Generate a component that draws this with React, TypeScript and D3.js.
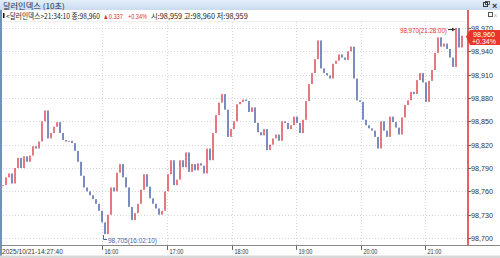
import React, { useLayoutEffect, useRef } from "react";
import * as d3 from "d3";

const closes: number[] = [
  98768, 98778, 98783, 98770, 98790, 98803, 98790, 98805, 98798, 98806,
  98818, 98815, 98824, 98850, 98864, 98828, 98835, 98843, 98849, 98835,
  98826, 98824, 98825, 98822, 98812, 98798, 98780, 98765, 98760, 98755,
  98750, 98744, 98735, 98720, 98705, 98730, 98765, 98760, 98784, 98795,
  98778, 98765, 98740, 98723, 98732, 98744, 98762, 98782, 98766, 98751,
  98744, 98738, 98730, 98735, 98760, 98782, 98800, 98768, 98775, 98800,
  98791, 98810, 98785, 98795, 98787, 98796, 98793, 98783, 98815, 98800,
  98835, 98858, 98874, 98885, 98865, 98830, 98840, 98850, 98872, 98875,
  98878, 98876, 98862, 98868, 98848, 98836, 98832, 98840, 98813, 98820,
  98828, 98833, 98825, 98850, 98848, 98840, 98845, 98856, 98848, 98835,
  98852, 98876, 98898, 98912, 98930, 98954, 98918, 98912, 98909, 98905,
  98924, 98928, 98936, 98932, 98929, 98940, 98946, 98905, 98877, 98875,
  98852, 98845, 98841, 98838, 98830, 98815, 98850, 98838, 98830, 98856,
  98849, 98842, 98833, 98855, 98871, 98877, 98888, 98885, 98903, 98912,
  98900, 98875, 98902, 98916, 98938, 98958, 98946, 98950, 98943, 98932,
  98920, 98970, 98945, 98960,
];

const yTickValues: number[] = [98700, 98730, 98760, 98790, 98820, 98850, 98880, 98910, 98940, 98970];
const hourTicks: number[] = [16, 17, 18, 19, 20, 21];
const startLabel = "2025/10/21-14:27:40";
const titleText = "달러인덱스 (10초)";
const infoMain = "<달러인덱스>21:34:10 종:98,960";
const infoChange = "▲0.337";
const infoPct = "+0.34%";
const infoRest = "시:98,959 고:98,960 저:98,959";
const lastPrice = "98,960";
const lastChange = "+0.34%";
const maxLabel = "98,970(21:28:00)";
const minLabel = "98,705(16:02:10)";

const W = 500;
const H = 258;
const start = new Date(2025, 9, 21, 14, 27, 40);
const end = new Date(2025, 9, 21, 21, 34, 10);
const numFont = "'Liberation Sans', Arial, sans-serif";
const krFont = "'Noto Sans CJK KR', sans-serif";

function FitText(props: {
  x: number;
  y: number;
  w: number;
  size: number;
  fill: string;
  font?: string;
  anchor?: "start" | "end";
  children: string;
}) {
  const ref = useRef<SVGTextElement>(null);
  const { x, y, w, size, fill, font, anchor, children } = props;
  useLayoutEffect(() => {
    const el = ref.current;
    if (!el) return;
    const len = el.getComputedTextLength() || w;
    const k = w / len;
    const x0 = anchor === "end" ? x - w : x;
    el.setAttribute("transform", `translate(${x0},${y}) scale(${k},1)`);
  }, [x, y, w, anchor, children]);
  return (
    <text ref={ref} x={0} y={0} transform={`translate(${x},${y})`} fontFamily={font || numFont} fontSize={size} fill={fill}>
      {children}
    </text>
  );
}

export default function App() {
  const n = closes.length;
  const times = d3.range(n).map((i) => new Date(+start + (i * (+end - +start)) / (n - 1)));
  const x = d3.scaleTime().domain([start, end]).range([3, 462]);
  const y = d3.scaleLinear().domain([98700, 98970]).range([238, 28]);

  const maxV = d3.max(closes) as number;
  const minV = d3.min(closes) as number;
  const maxI = closes.indexOf(maxV);
  const minI = closes.indexOf(minV);

  return (
    <svg width={W} height={H} style={{ position: "absolute", left: 0, top: 0, background: "#fff" }}>
      <defs>
        <linearGradient id="tb" x1="0" y1="0" x2="0" y2="1">
          <stop offset="0" stopColor="#e4eefa" />
          <stop offset="1" stopColor="#c9dbef" />
        </linearGradient>
      </defs>
      {/* title bar */}
      <rect x={0} y={0} width={W} height={10} fill="url(#tb)" />
      <FitText x={3} y={8.5} w={62} size={7.5} fill="#1d2c4c" font={krFont}>
        {titleText}
      </FitText>
      <rect x={483.5} y={2.5} width={4} height={4} fill="none" stroke="#333" />
      <rect x={485.5} y={1.5} width={4} height={3} fill="none" stroke="#333" strokeWidth={0.8} />
      <text x={492} y={8.5} fontFamily={numFont} fontSize={9} fontWeight="bold" fill="#333">
        ×
      </text>
      {/* left border */}
      <rect x={0} y={10} width={2} height={H - 10} fill="#7191bf" />
      {/* info line */}
      <rect x={3} y={13} width={1.5} height={5} fill="#111" />
      <FitText x={6} y={18.5} w={94} size={7.5} fill="#222" font={krFont}>
        {infoMain}
      </FitText>
      <FitText x={103} y={18.5} w={20} size={7.5} fill="#e0302e">
        {infoChange}
      </FitText>
      <FitText x={128} y={18.5} w={19} size={7.5} fill="#e0302e">
        {infoPct}
      </FitText>
      <FitText x={151} y={18.5} w={97} size={7.5} fill="#222" font={krFont}>
        {infoRest}
      </FitText>
      <rect x={488.5} y={12.5} width={4} height={4} fill="none" stroke="#555" strokeWidth={1} />
      <text x={494} y={17} fontFamily={numFont} fontSize={6} fill="#999">
        x
      </text>
      <line x1={3} x2={466} y1={21.5} y2={21.5} stroke="#eee" />

      {/* grid */}
      {yTickValues.map((v) => (
        <line key={"gy" + v} x1={3} x2={467} y1={Math.round(y(v)) + 0.5} y2={Math.round(y(v)) + 0.5} stroke="#d6d6d6" strokeDasharray="1,2" />
      ))}
      {hourTicks.map((h) => {
        const xx = Math.round(x(new Date(2025, 9, 21, h, 0, 0))) + 0.5;
        return <line key={"gx" + h} x1={xx} x2={xx} y1={22} y2={245} stroke="#d6d6d6" strokeDasharray="1,2" />;
      })}

      {/* candles */}
      {closes.map((c, i) => {
        const o = i === 0 ? c : closes[i - 1];
        const y1 = y(Math.max(o, c));
        const y2 = y(Math.min(o, c));
        const up = c >= o;
        return (
          <rect
            key={"c" + i}
            x={x(times[i]) - 0.8}
            y={y1}
            width={1.6}
            height={Math.max(1, y2 - y1)}
            fill={up ? "#df4650" : "#4862a8"}
            fillOpacity={0.9}
          />
        );
      })}

      {/* max label */}
      <FitText x={447} y={32.5} w={47} size={8} fill="#e0302e" anchor="end">
        {maxLabel}
      </FitText>
      <line x1={448} x2={x(times[maxI]) - 1} y1={29.5} y2={29.5} stroke="#333" strokeWidth={1} />
      <path d={`M${x(times[maxI]) - 1},29.5 l-3,-2 l0,4 z`} fill="#333" />
      {/* min label */}
      <path d={`M${Math.round(x(times[minI])) - 1.5},${y(minV) + 1} V239.5 H107`} fill="none" stroke="#4a64a8" />
      <FitText x={108} y={242.5} w={49} size={8} fill="#4a64a8">
        {minLabel}
      </FitText>

      {/* red current line */}
      <line x1={468} x2={468} y1={10} y2={245} stroke="#e02a2a" strokeWidth={1.5} />

      {/* y labels */}
      {yTickValues.map((v) => (
        <g key={"yl" + v}>
          <line x1={468} x2={471} y1={Math.round(y(v)) + 0.5} y2={Math.round(y(v)) + 0.5} stroke="#666" />
          <FitText x={471} y={y(v) + 3} w={22} size={8} fill="#333">
            {d3.format(",")(v)}
          </FitText>
        </g>
      ))}

      {/* price tag */}
      <path d="M466,36.5 L470,30 H500 V45 H470 Z" fill="#e8342b" />
      <FitText x={473} y={37} w={22} size={7.5} fill="#fff">
        {lastPrice}
      </FitText>
      <FitText x={472} y={44} w={24} size={7.5} fill="#fff">
        {lastChange}
      </FitText>

      {/* x axis */}
      <line x1={0} x2={W} y1={245.5} y2={245.5} stroke="#888" />
      <FitText x={2} y={253.5} w={61} size={8} fill="#333">
        {startLabel}
      </FitText>
      {hourTicks.map((h) => {
        const xx = Math.round(x(new Date(2025, 9, 21, h, 0, 0))) + 0.5;
        return (
          <g key={"xl" + h}>
            <line x1={xx} x2={xx} y1={246} y2={250} stroke="#666" />
            <FitText x={xx + 2} y={253.5} w={14} size={8} fill="#333">
              {`${h}:00`}
            </FitText>
          </g>
        );
      })}
      <rect x={0} y={255.5} width={W} height={3} fill="#d8d8d8" />
    </svg>
  );
}
